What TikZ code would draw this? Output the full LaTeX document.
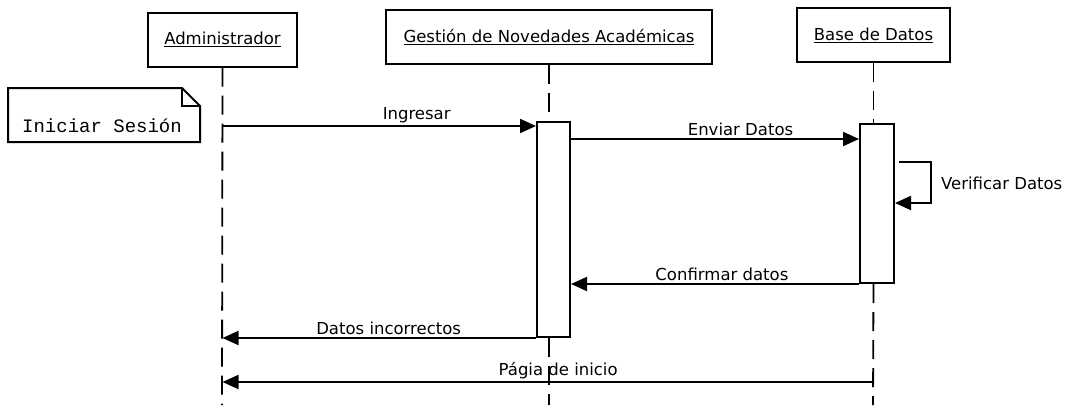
\documentclass[tikz,border=0pt]{standalone}
\usepackage{fontspec}
\setmainfont{DejaVu Sans}
\newfontfamily\notefont{Liberation Mono}
\usetikzlibrary{arrows.meta}

\tikzset{
  headbox/.style={draw,line width=2pt,minimum height=54pt,inner sep=0pt,
    font=\fontsize{16.5}{20}\selectfont},
  lifeline/.style={line width=1.8pt,dash pattern=on 19pt off 9pt},
  actbox/.style={draw,line width=2pt,fill=white,inner sep=0pt},
  msg/.style={line width=2pt,-{Triangle[length=16pt,width=14pt]}},
  msglabel/.style={font=\fontsize{16.5}{20}\selectfont,inner sep=2pt}
}

\begin{document}
\begin{tikzpicture}[x=1pt,y=-1pt]
\useasboundingbox (0,0) rectangle (1075,405);

% cabeceras
\node[headbox,minimum width=149pt] (adm) at (222.5,39.5) {\underline{Administrador}};
\node[headbox,minimum width=326pt] (gest) at (549,37) {\underline{Gestión de Novedades Académicas}};
\node[headbox,minimum width=153pt] (bd) at (873.5,35) {\underline{Base de Datos}};

% lineas de vida
\coordinate (admEnd) at (222,405);
\coordinate (gestEnd) at (549,405);
\coordinate (bdEnd) at (873,405);
\draw[lifeline] (adm.south) -- (admEnd);

% activaciones
\node[actbox,minimum width=33pt,minimum height=215pt] (ga) at (553.5,229.5) {};
\node[actbox,minimum width=34pt,minimum height=159pt] (ba) at (877,203.5) {};
\draw[lifeline,line width=1.2pt] (gest.south) -- (gest.south |- ga.north);
\draw[lifeline,line width=1.2pt] (gest.south |- ga.south) -- (gestEnd);
\draw[lifeline] (bd.south) -- (bd.south |- ba.north);
\draw[lifeline] (bd.south |- ba.south) -- (bdEnd);

% nota
\node[font=\notefont\fontsize{19}{22}\selectfont,inner sep=0pt] (note) at (102,126) {Iniciar Sesión};
\draw[line width=2pt] (8,88) -- (182,88) -- (200,106) -- (200,142) -- (8,142) -- cycle;
\draw[line width=1.2pt] (182,88) -- (182,106) -- (200,106);

% mensajes
\coordinate (m1) at (222,126);
\coordinate (m2) at (570,139);
\coordinate (v1) at (899,162);
\coordinate (v2) at (931,203);
\coordinate (m5) at (873,382);

\draw[msg] (m1) -- (ga.west |- m1)
  node[msglabel,above,pos=0.62] (lIng) {Ingresar};
\draw[msg] (m2) -- (ba.west |- m2)
  node[msglabel,above,pos=0.59] (lEnv) {Enviar Datos};
\draw[msg] (v1) -| (v2) -- (ba.east |- v2);
\node[msglabel,anchor=west] (lVer) at (939,183) {Verificar Datos};
\draw[msg] (ba.south west) -- (ga.east |- ba.south)
  node[msglabel,above,pos=0.476] (lConf) {Confirmar datos};
\draw[msg] (ga.south west) -- (adm.south |- ga.south)
  node[msglabel,above,pos=0.47] (lInc) {Datos incorrectos};
\draw[msg] (m5) -- (adm.south |- m5)
  node[msglabel,above,pos=0.484] (lPag) {Págia de inicio};
\end{tikzpicture}
\end{document}
